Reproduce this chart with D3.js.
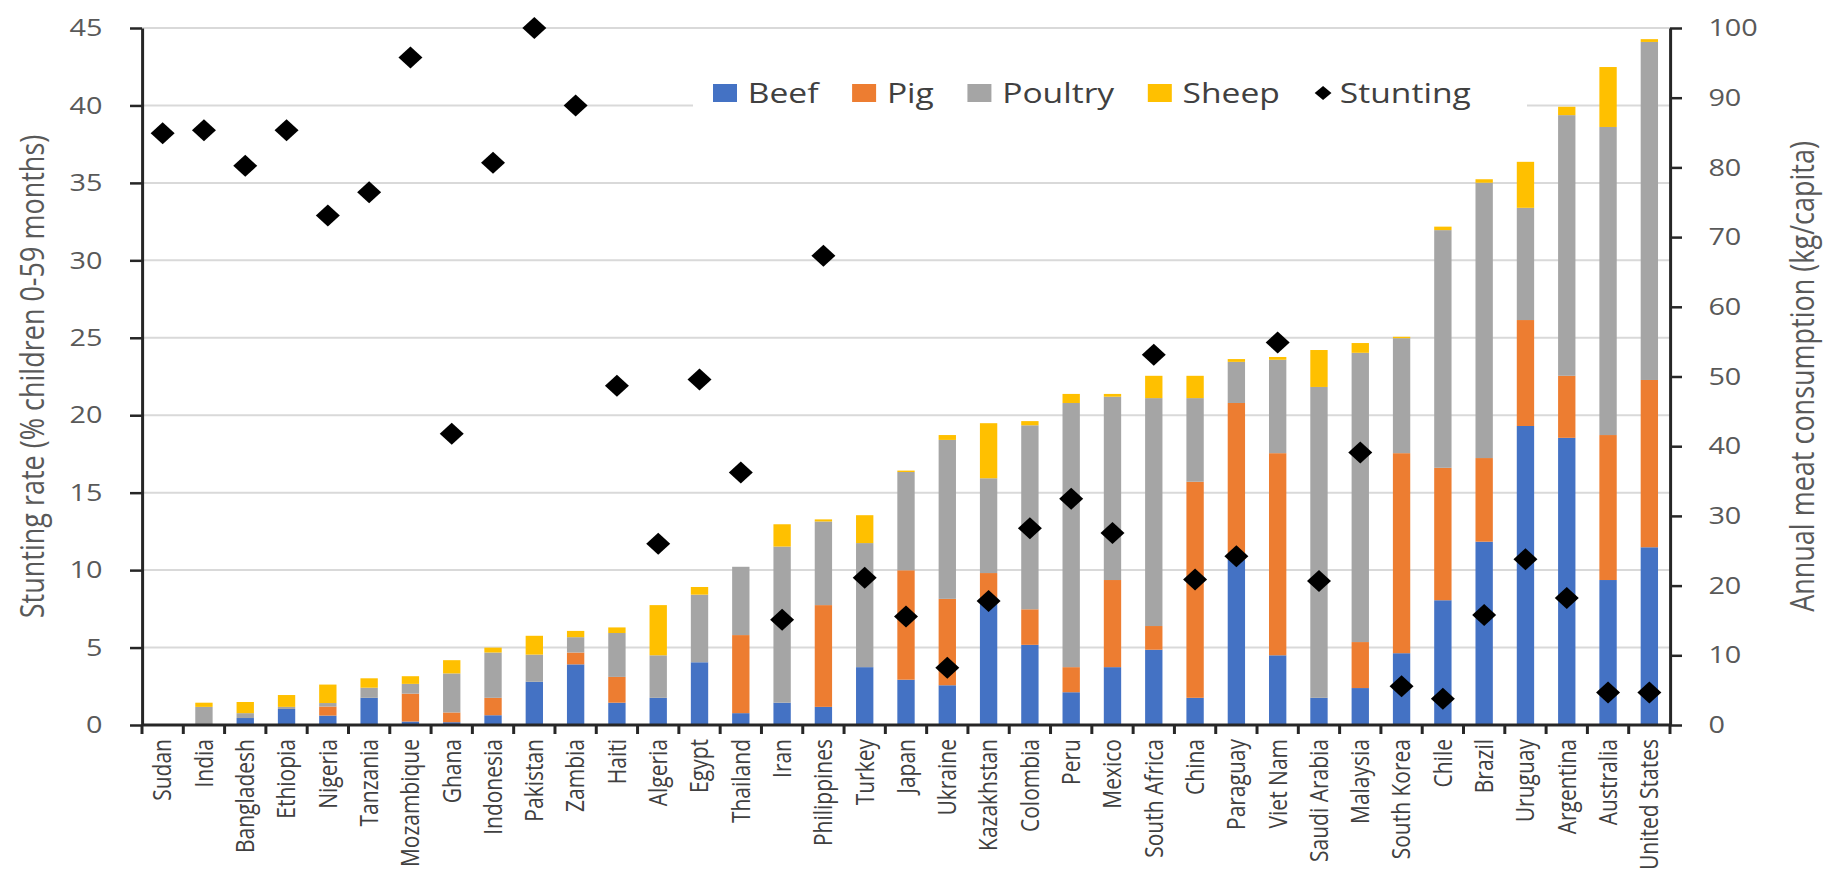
<!DOCTYPE html>
<html>
<head>
<meta charset="utf-8">
<script src="https://cdn.jsdelivr.net/npm/d3@7"></script>
<style>
    html, body { margin: 0; padding: 0; background: #fff; }
    svg { display: block; }
    text { font-family: "Open Sans", "Noto Sans", sans-serif; }
</style>
</head>
<body>
<svg id="chart"></svg>
<script>
// 数据
var countries = ["Sudan", "India", "Bangladesh", "Ethiopia", "Nigeria", "Tanzania", "Mozambique", "Ghana",
    "Indonesia", "Pakistan", "Zambia", "Haiti", "Algeria", "Egypt", "Thailand", "Iran", "Philippines",
    "Turkey", "Japan", "Ukraine", "Kazakhstan", "Colombia", "Peru", "Mexico", "South Africa", "China",
    "Paraguay", "Viet Nam", "Saudi Arabia", "Malaysia", "South Korea", "Chile", "Brazil", "Uruguay",
    "Argentina", "Australia", "United States"];

// kg/capita
var beef    = [0, 0, 1.0, 2.3, 1.35, 3.9, 0.5, 0.4, 1.4, 6.2, 8.7, 3.2, 3.9, 9.0, 1.7, 3.2, 2.6, 8.3, 6.5, 5.7,
               17.9, 11.5, 4.7, 8.3, 10.8, 3.9, 23.7, 10.0, 3.9, 5.3, 10.3, 17.9, 26.3, 42.9, 41.2, 20.8, 25.5];
var pig     = [0, 0, 0, 0, 1.3, 0, 4.0, 1.4, 2.5, 0, 1.7, 3.7, 0, 0, 11.2, 0, 14.6, 0, 15.7, 12.4,
               3.9, 5.1, 3.6, 12.5, 3.4, 31.0, 22.5, 29.0, 0, 6.6, 28.7, 19.0, 12.0, 15.2, 8.9, 20.8, 24.0];
var poultry = [0, 2.6, 0.7, 0.3, 0.5, 1.45, 1.4, 5.6, 6.5, 3.9, 2.2, 6.3, 6.1, 9.7, 9.8, 22.4, 12.0, 17.8, 14.1, 22.8,
               13.6, 26.4, 37.9, 26.3, 32.7, 12.0, 5.9, 13.4, 44.6, 41.5, 16.5, 34.1, 39.5, 16.1, 37.4, 44.2, 48.5];
var sheep   = [0, 0.6, 1.6, 1.7, 2.65, 1.35, 1.1, 1.9, 0.7, 2.7, 0.9, 0.8, 7.2, 1.1, 0, 3.2, 0.3, 4.0, 0.2, 0.7,
               7.9, 0.6, 1.3, 0.4, 3.2, 3.2, 0.4, 0.4, 5.3, 1.4, 0.2, 0.5, 0.5, 6.6, 1.2, 8.6, 0.4];

// % children 0-59 months
var stunting = [38.2, 38.4, 36.1, 38.4, 32.9, 34.4, 43.1, 18.8, 36.3, 45.0, 40.0, 21.9, 11.7, 22.3, 16.3, 6.8, 30.3,
                9.5, 7.0, 3.7, 8.0, 12.7, 14.6, 12.4, 23.9, 9.4, 10.9, 24.7, 9.3, 17.6, 2.5, 1.7, 7.1, 10.7, 8.2, 2.1, 2.1];

var seriesNames  = ["Beef", "Pig", "Poultry", "Sheep"];
var seriesColors = ["#4472C4", "#ED7D31", "#A5A5A5", "#FFC000"];
var stuntTicks   = [0, 5, 10, 15, 20, 25, 30, 35, 40, 45];
var meatTicks    = [0, 10, 20, 30, 40, 50, 60, 70, 80, 90, 100];

// 画布 (原图横向拉伸, 用 viewBox 模拟)
var W = 1837, H = 879, SX = 1.2;
var plot = {left: 142 / SX, right: 1670 / SX, top: 28, bottom: 725};

var svg = d3.select("#chart")
    .attr("width", W).attr("height", H)
    .attr("viewBox", "0 0 " + (W / SX) + " " + H)
    .attr("preserveAspectRatio", "none");

var x = d3.scaleBand().domain(countries)
    .range([plot.left, plot.right])
    .paddingInner(0.58).paddingOuter(0.29);
var yL = d3.scaleLinear().domain([0, 45]).range([plot.bottom, plot.top]);
var yR = d3.scaleLinear().domain([0, 100]).range([plot.bottom, plot.top]);

// 网格线
svg.append("g").attr("class", "grid")
    .selectAll("line").data(stuntTicks.slice(1)).enter().append("line")
    .attr("x1", plot.left).attr("x2", plot.right)
    .attr("y1", function (d) { return yL(d); })
    .attr("y2", function (d) { return yL(d); })
    .attr("stroke", "#d9d9d9").attr("stroke-width", 2);

// 堆叠柱
var rows = countries.map(function (c, i) {
    return {country: c, Beef: beef[i], Pig: pig[i], Poultry: poultry[i], Sheep: sheep[i]};
});
var stacked = d3.stack().keys(seriesNames)(rows);

svg.append("g").attr("class", "bars")
    .selectAll("g").data(stacked).enter().append("g")
    .attr("fill", function (d, i) { return seriesColors[i]; })
    .selectAll("rect").data(function (d) { return d; }).enter().append("rect")
    .attr("x", function (d) { return x(d.data.country); })
    .attr("width", x.bandwidth())
    .attr("y", function (d) { return yR(d[1]); })
    .attr("height", function (d) { return yR(d[0]) - yR(d[1]); });

// 坐标轴
var axisColor = "#262626";

var gL = svg.append("g").attr("transform", "translate(" + plot.left + ",0)")
    .call(d3.axisLeft(yL).tickValues(stuntTicks).tickSize(10).tickSizeOuter(0).tickPadding(23));
var gR = svg.append("g").attr("transform", "translate(" + plot.right + ",0)")
    .call(d3.axisRight(yR).tickValues(meatTicks).tickSize(10).tickSizeOuter(0).tickPadding(22));

[gL, gR].forEach(function (g) {
    g.select(".domain").attr("stroke", axisColor).attr("stroke-width", 2.5);
    g.selectAll(".tick line").attr("stroke", axisColor).attr("stroke-width", 2.5);
    g.selectAll(".tick text").attr("fill", "#595959")
        .style("font-family", "'Open Sans', sans-serif").style("font-size", "24px");
});

// 横轴
var gX = svg.append("g").attr("class", "x-axis");
gX.append("line")
    .attr("x1", plot.left).attr("x2", plot.right)
    .attr("y1", plot.bottom).attr("y2", plot.bottom)
    .attr("stroke", axisColor).attr("stroke-width", 3);

gX.selectAll(".xtick").data(d3.range(countries.length + 1)).enter().append("line")
    .attr("class", "xtick")
    .attr("x1", function (i) { return plot.left + i * x.step(); })
    .attr("x2", function (i) { return plot.left + i * x.step(); })
    .attr("y1", plot.bottom).attr("y2", plot.bottom + 9)
    .attr("stroke", axisColor).attr("stroke-width", 2.5);

gX.selectAll("text").data(countries).enter().append("text")
    .attr("transform", function (d) {
        return "translate(" + (x(d) + x.bandwidth() / 2) + "," + (plot.bottom + 14) + ") rotate(-90)";
    })
    .attr("text-anchor", "end")
    .attr("dy", "0.35em")
    .attr("fill", "#404040")
    .style("font-size", "21px")
    .text(function (d) { return d; });

// 发育迟缓散点
var diamond = "M0,-11L10,0L0,11L-10,0Z";
svg.append("g").attr("class", "stunting")
    .selectAll("path").data(stunting).enter().append("path")
    .attr("d", diamond)
    .attr("fill", "#000")
    .attr("transform", function (d, i) {
        return "translate(" + (x(countries[i]) + x.bandwidth() / 2) + "," + yL(d) + ")";
    });

// 轴标题
svg.append("text")
    .attr("transform", "translate(" + (33 / SX) + "," + ((plot.top + plot.bottom) / 2) + ") rotate(-90)")
    .attr("text-anchor", "middle").attr("dy", "0.35em")
    .attr("fill", "#595959").style("font-size", "27px")
    .text("Stunting rate (% children 0-59 months)");

svg.append("text")
    .attr("transform", "translate(" + (1803 / SX) + "," + ((plot.top + plot.bottom) / 2) + ") rotate(-90)")
    .attr("text-anchor", "middle").attr("dy", "0.35em")
    .attr("fill", "#595959").style("font-size", "27px")
    .text("Annual meat consumption (kg/capita)");

// 图例
var legend = svg.append("g").attr("class", "legend");
legend.append("rect")
    .attr("x", 693 / SX).attr("y", 60)
    .attr("width", (1527 - 693) / SX).attr("height", 66)
    .attr("fill", "#fff");

var cursor = 713 / SX, legendY = 93;
seriesNames.concat(["Stunting"]).forEach(function (name, i) {
    var textX;
    if (i < seriesNames.length) {
        legend.append("rect")
            .attr("x", cursor).attr("y", legendY - 9)
            .attr("width", 20).attr("height", 18)
            .attr("fill", seriesColors[i]);
        textX = cursor + 29;
    } else {
        legend.append("path")
            .attr("d", "M0,-7L7,0L0,7L-7,0Z")
            .attr("fill", "#000")
            .attr("transform", "translate(" + (cursor + 8) + "," + legendY + ")");
        textX = cursor + 22;
    }
    var t = legend.append("text")
        .attr("x", textX).attr("y", legendY).attr("dy", "0.35em")
        .attr("fill", "#404040").style("font-size", "28px")
        .text(name);
    cursor = textX + t.node().getComputedTextLength() + 28;
});
</script>
</body>
</html>
